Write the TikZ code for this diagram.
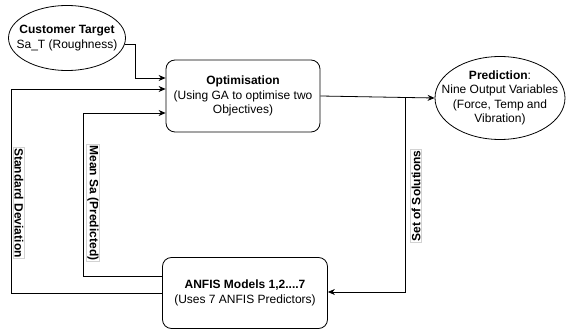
\documentclass[tikz,border=0pt]{standalone}
\usepackage{fontspec}
\setmainfont{Liberation Sans}
\usetikzlibrary{arrows.meta,shapes.geometric}

\tikzset{
 box/.style={draw,rounded corners=9pt,align=center,line width=0.8pt},
 oval/.style={draw,ellipse,align=center,line width=0.8pt,inner xsep=-20pt,inner ysep=-5pt},
 link/.style={draw,line width=0.8pt,-{Stealth[length=7pt,width=6pt]}},
 tag/.style={fill=white,draw=gray!35,line width=0.4pt,inner sep=1pt,
  font=\fontsize{12}{14}\selectfont\bfseries}
}

\begin{document}
\begin{tikzpicture}[x=1pt,y=-1pt,font=\fontsize{12}{14.5}\selectfont]
\useasboundingbox (0,0) rectangle (566,331);

%nodes
\node[oval,minimum width=117pt,minimum height=65pt] (cust) at (67,38)
 {\textbf{Customer Target}\\Sa\_T (Roughness)};
\node[box,minimum width=154pt,minimum height=72pt] (opt) at (243,96)
 {\textbf{Optimisation}\\(Using GA to optimise two\\Objectives)};
\node[oval,minimum width=130pt,minimum height=83pt] (pred) at (500,98)
 {\textbf{Prediction}:\\Nine Output Variables\\(Force, Temp and\\Vibration)};
\node[box,minimum width=165pt,minimum height=71pt] (anfis) at (245,293)
 {\textbf{ANFIS Models 1,2....7}\\(Uses 7 ANFIS Predictors)};

%bends
\coordinate (c0) at (125,44);
\coordinate (c1) at (135,78);
\coordinate (s1) at (11,293);
\coordinate (s2) at (11,89);
\coordinate (m1) at (83,276);
\coordinate (m2) at (83,113);
\coordinate (b1) at (405,98);
\coordinate (b2) at (405,292);

%connectors
\draw[link] (c0) -| (c1) -- (c1 -| opt.west);
\draw[link] (s1 -| anfis.west) -- (s1) -- (s2) -- (s2 -| opt.west);
\draw[link] (m1 -| anfis.west) -- (m1) -- (m2) -- (m2 -| opt.west);
\draw[link] (opt.east) -- (pred.west);
\draw[link] (b1) -- (b2) -- (b2 -| anfis.east);

%labels
\path (19,203) node[tag,rotate=-90] (sd) {Standard Deviation};
\path (93,203) node[tag,rotate=-90] (ms) {Mean Sa (Predicted)};
\path (416,196) node[tag,rotate=90] (sol) {Set of Solutions};

\end{tikzpicture}
\end{document}
